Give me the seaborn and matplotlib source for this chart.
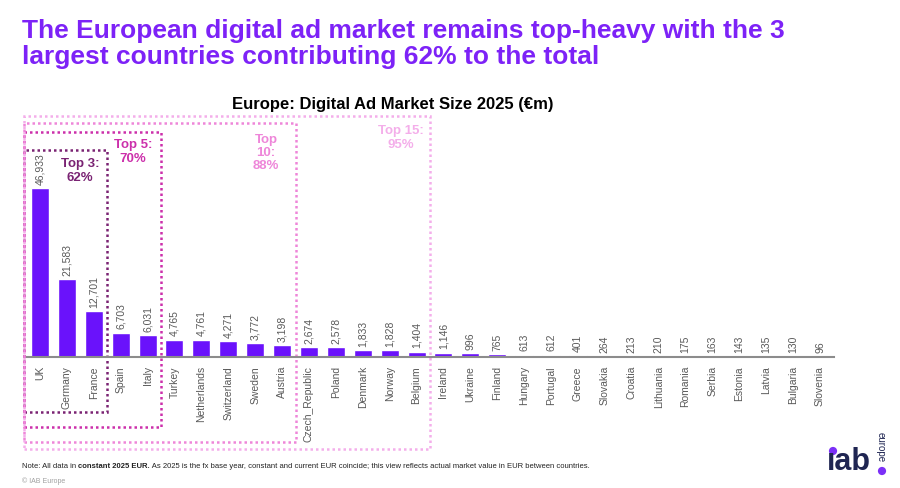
import matplotlib as mpl
mpl.use('Agg')
import matplotlib.pyplot as plt
from matplotlib import transforms
from matplotlib.patches import Rectangle, Circle
import pandas as pd
import seaborn as sns

sns.set_theme(style='white')
plt.rcParams['font.family'] = ['Liberation Sans', 'DejaVu Sans']

# market size 2025, EUR millions
countries = ['UK', 'Germany', 'France', 'Spain', 'Italy', 'Turkey', 'Netherlands',
             'Switzerland', 'Sweden', 'Austria', 'Czech_Republic', 'Poland', 'Denmark',
             'Norway', 'Belgium', 'Ireland', 'Ukraine', 'Finland', 'Hungary', 'Portugal',
             'Greece', 'Slovakia', 'Croatia', 'Lithuania', 'Romania', 'Serbia', 'Estonia',
             'Latvia', 'Bulgaria', 'Slovenia']
market_eur_m = [46933, 21583, 12701, 6703, 6031, 4765, 4761, 4271, 3772, 3198,
                2674, 2578, 1833, 1828, 1404, 1146, 996, 765, 613, 612,
                401, 264, 213, 210, 175, 163, 143, 135, 130, 96]

tier_sizes = [3, 5, 10, 15]
tier_labels = ['Top 3:\n62%', 'Top 5:\n70%', 'Top\n10:\n88%', 'Top 15:\n95%']
tier_colors = ['#7a2373', '#cc2fab', '#ee86d9', '#f4aeea']

BAR_COLOR = '#6a12fb'
TITLE_COLOR = '#7d22f7'
GREY = '#595959'

W, H = 900, 489
fig = plt.figure(figsize=(W / 100, H / 100), dpi=100)


def fy(px):
    return 1 - px / H


ax = fig.add_axes([26.5 / W, fy(357.7), 807 / W, 240.4 / H])

df = pd.DataFrame({'country': countries, 'value': market_eur_m})
sns.barplot(data=df, x='country', y='value', color=BAR_COLOR, saturation=1,
            width=0.67, ax=ax)
ax.set_xlim(-0.5, len(countries) - 0.5)
ax.set_ylim(0, 67000)

ax.bar_label(ax.containers[0], labels=['{:,}'.format(v) for v in market_eur_m],
             rotation=90, padding=3, fontsize=7.5, color=GREY)

for s in ['top', 'left', 'right']:
    ax.spines[s].set_visible(False)
ax.spines['bottom'].set_color('#8c8c8c')
ax.spines['bottom'].set_linewidth(1.5)
ax.set_yticks([])
ax.set_xlabel('')
ax.set_ylabel('')
ax.tick_params(axis='x', length=0, pad=6, labelsize=7.5, labelcolor=GREY)
plt.setp(ax.get_xticklabels(), rotation=90, va='top', ha='center')

# dotted tier boxes: x in data, y in figure fraction
trans = transforms.blended_transform_factory(ax.transData, fig.transFigure)
box_tops = [151, 133, 124, 117]
box_bottoms = [413, 428, 443, 450]
label_pos = [(1.5, 171), (3.45, 152), (8.4, 153), (13.4, 138)]
for n, top, bot, col, lab, (lx, ly) in zip(tier_sizes, box_tops, box_bottoms,
                                           tier_colors, tier_labels, label_pos):
    rect = Rectangle((-0.6, fy(bot)), n - 0.5 + 0.6, fy(top) - fy(bot),
                     transform=trans, fill=False, edgecolor=col, lw=1.8,
                     linestyle=(0, (1, 1.2)), clip_on=False)
    ax.add_patch(rect)
    ax.text(lx, fy(ly), lab, transform=trans, ha='center', va='center',
            fontsize=9.5, fontweight='bold', color=col, linespacing=1.15)

fig.text(22 / W, fy(44), 'The European digital ad market remains top-heavy with the 3\n'
         'largest countries contributing 62% to the total',
         fontsize=19, fontweight='bold', color=TITLE_COLOR, va='center',
         linespacing=1.15)
fig.text(393 / W, fy(104), 'Europe: Digital Ad Market Size 2025 (€m)',
         fontsize=12, fontweight='bold', color='black', ha='center', va='center')

# footnote with a bold chunk
renderer = fig.canvas.get_renderer()
x = 22 / W
for chunk, wt in [('Note: All data in ', 'normal'), ('constant 2025 EUR.', 'bold'),
                  (' As 2025 is the fx base year, constant and current EUR coincide; '
                   'this view reflects actual market value in EUR between countries.',
                   'normal')]:
    t = fig.text(x, fy(467), chunk, fontsize=5.5, fontweight=wt, color='#222222',
                 va='center')
    x += t.get_window_extent(renderer).width / W
fig.text(22 / W, fy(481), '© IAB Europe', fontsize=5, color='#a0a0a0', va='center')

# logo
fig.text(827 / W, fy(470), 'ıab', fontsize=22, fontweight='bold', color='#1f2552',
         va='baseline')
fig.text(881 / W, fy(447), 'europe', fontsize=7, color='#1f2552', rotation=-90,
         ha='center', va='center')
for cx, cy, r in [(833, 452, 3.4), (882, 472, 3.4)]:
    fig.add_artist(Circle((cx / 100, (H - cy) / 100), r / 100,
                          transform=fig.dpi_scale_trans, color='#7b2ff7'))

fig.savefig('out.png', dpi=100)
